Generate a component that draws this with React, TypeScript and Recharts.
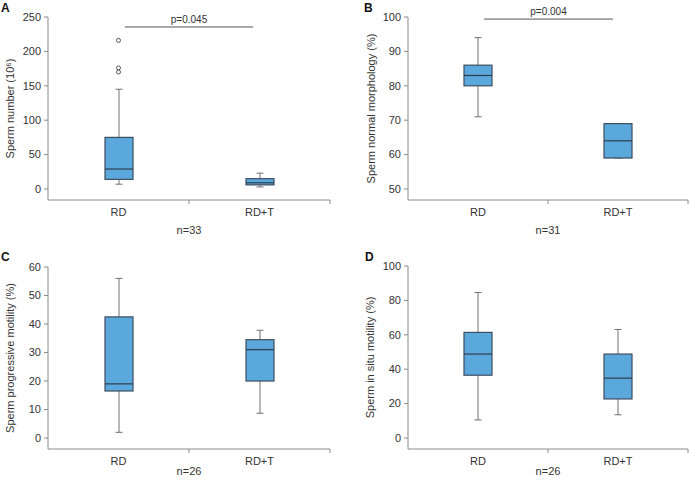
import React from "react";
import {
  ComposedChart,
  Bar,
  XAxis,
  YAxis,
  ReferenceLine,
  ReferenceDot,
} from "recharts";

const groups = ["RD", "RD+T"];
const groupX = [0.5, 1.5];

// A: sperm number
const lowA = [7, 3];
const q1A = [14, 6];
const medA = [29, 9];
const q3A = [75, 15];
const highA = [145, 23];
const outliersA = [216, 176, 170];

// B: normal morphology
const lowB = [71, 59];
const q1B = [80, 59];
const medB = [83, 64];
const q3B = [86, 69];
const highB = [94, 69];

// C: progressive motility
const lowC = [2, 8.7];
const q1C = [16.5, 20];
const medC = [19, 31];
const q3C = [42.5, 34.5];
const highC = [56, 37.8];

// D: in situ motility
const lowD = [10.5, 13.5];
const q1D = [36.5, 22.7];
const medD = [48.8, 34.8];
const q3D = [61.4, 48.8];
const highD = [84.6, 63.1];

const ticksA = [0, 50, 100, 150, 200, 250];
const ticksB = [50, 60, 70, 80, 90, 100];
const ticksC = [0, 10, 20, 30, 40, 50, 60];
const ticksD = [0, 20, 40, 60, 80, 100];

const FONT = "'Liberation Sans', Arial, sans-serif";
const AXIS = "#8a8a8a";
const TEXT = "#333";

const makeRows = (lo: number[], q1: number[], med: number[], q3: number[], hi: number[]) =>
  groups.map((g, i) => ({
    name: g,
    x: groupX[i],
    low: lo[i],
    q1: q1[i],
    med: med[i],
    q3: q3[i],
    high: hi[i],
    range: [lo[i], hi[i]],
  }));

const BoxShape = (props: any) => {
  const { x, y, width, height, payload } = props;
  const top = Math.min(y, y + height);
  const h = Math.abs(height);
  const lo = payload.low;
  const hi = payload.high;
  const py = (v: number) => (hi === lo ? top : top + ((hi - v) / (hi - lo)) * h);
  const cx = x + width / 2;
  const wStroke = "#707070";
  return (
    <g>
      <line x1={cx} x2={cx} y1={py(hi)} y2={py(payload.q3)} stroke={wStroke} />
      <line x1={cx} x2={cx} y1={py(payload.q1)} y2={py(lo)} stroke={wStroke} />
      <line x1={cx - 3.5} x2={cx + 3.5} y1={py(hi)} y2={py(hi)} stroke={wStroke} />
      <line x1={cx - 3.5} x2={cx + 3.5} y1={py(lo)} y2={py(lo)} stroke={wStroke} />
      <rect
        x={x}
        y={py(payload.q3)}
        width={width}
        height={py(payload.q1) - py(payload.q3)}
        fill="#5ba8dd"
        stroke="#3d4e5f"
        strokeWidth={1.2}
      />
      <line x1={x} x2={x + width} y1={py(payload.med)} y2={py(payload.med)} stroke="#2f3d4b" strokeWidth={1.2} />
    </g>
  );
};

const XTick = (props: any) => {
  const { x, y, payload } = props;
  const v = payload.value;
  if (Number.isInteger(v)) {
    if (v === 0) return <g />;
    return <line x1={x} x2={x} y1={y - 8} y2={y - 4} stroke={AXIS} />;
  }
  return (
    <text x={x} y={y} dy="0.71em" textAnchor="middle" fontSize={11} fill={TEXT} fontFamily={FONT}>
      {groups[Math.floor(v)]}
    </text>
  );
};

interface PanelProps {
  rows: any[];
  width: number;
  height: number;
  margin: { top: number; right: number; bottom: number; left: number };
  yWidth: number;
  xHeight: number;
  domain: [number, number];
  ticks: number[];
  yLabel: string;
  labelOffset: number;
  n: string;
  children?: React.ReactNode;
}

const Panel = (p: PanelProps) => (
  <ComposedChart width={p.width} height={p.height} data={p.rows} margin={p.margin}>
    <XAxis
      type="number"
      dataKey="x"
      domain={[0, 2]}
      ticks={[0, 0.5, 1, 1.5, 2]}
      interval={0}
      tick={<XTick />}
      tickLine={false}
      tickSize={5}
      tickMargin={3}
      stroke={AXIS}
      height={p.xHeight}
      label={{ value: p.n, position: "insideBottom", offset: 0, fontSize: 11, fill: TEXT, fontFamily: FONT }}
    />
    <YAxis
      type="number"
      domain={p.domain}
      ticks={p.ticks}
      interval={0}
      allowDataOverflow
      width={p.yWidth}
      stroke={AXIS}
      tickSize={4}
      tickMargin={3}
      tick={{ fontSize: 11, fill: TEXT, fontFamily: FONT }}
      label={{
        value: p.yLabel,
        angle: -90,
        position: "insideLeft",
        offset: p.labelOffset,
        fontSize: 11,
        fill: TEXT,
        fontFamily: FONT,
        style: { textAnchor: "middle" },
      }}
    />
    <Bar dataKey="range" barSize={28} shape={<BoxShape />} isAnimationActive={false} />
    {p.children}
  </ComposedChart>
);

const letterStyle = (left: number, top: number): React.CSSProperties => ({
  position: "absolute",
  left,
  top,
  fontFamily: FONT,
  fontWeight: "bold",
  fontSize: 12,
  color: "#111",
  lineHeight: "12px",
});

const pLabel = (v: string) => ({ value: v, position: "top" as const, offset: 4, fontSize: 10, fill: TEXT, fontFamily: FONT });

export default function App() {
  const rowsA = makeRows(lowA, q1A, medA, q3A, highA);
  const rowsB = makeRows(lowB, q1B, medB, q3B, highB);
  const rowsC = makeRows(lowC, q1C, medC, q3C, highC);
  const rowsD = makeRows(lowD, q1D, medD, q3D, highD);

  return (
    <div style={{ position: "absolute", left: 0, top: 0, width: 690, height: 483, background: "#fff" }}>
      <div style={{ position: "absolute", left: 0, top: 0 }}>
        <Panel
          rows={rowsA}
          width={345}
          height={240}
          margin={{ top: 17, right: 15, bottom: 6, left: 0 }}
          yWidth={48}
          xHeight={34}
          domain={[-16, 250]}
          ticks={ticksA}
          yLabel="Sperm number (10⁶)"
          labelOffset={10}
          n="n=33"
        >
          {outliersA.map((v, i) => (
            <ReferenceDot key={i} x={groupX[0]} y={v} r={2} fill="#fff" stroke="#555" ifOverflow="visible" />
          ))}
          <ReferenceLine
            segment={[
              { x: 0.545, y: 235.5 },
              { x: 1.455, y: 235.5 },
            ]}
            stroke="#555"
            ifOverflow="visible"
            label={pLabel("p=0.045")}
          />
        </Panel>
      </div>
      <div style={{ position: "absolute", left: 345, top: 0 }}>
        <Panel
          rows={rowsB}
          width={345}
          height={240}
          margin={{ top: 17, right: 2, bottom: 6, left: 0 }}
          yWidth={63}
          xHeight={34}
          domain={[46.8, 100]}
          ticks={ticksB}
          yLabel="Sperm normal morphology (%)"
          labelOffset={26}
          n="n=31"
        >
          <ReferenceLine
            segment={[
              { x: 0.543, y: 99.4 },
              { x: 1.464, y: 99.4 },
            ]}
            stroke="#555"
            ifOverflow="visible"
            label={pLabel("p=0.004")}
          />
        </Panel>
      </div>
      <div style={{ position: "absolute", left: 0, top: 240 }}>
        <Panel
          rows={rowsC}
          width={345}
          height={243}
          margin={{ top: 27, right: 15, bottom: 8, left: 0 }}
          yWidth={48}
          xHeight={26}
          domain={[-3.85, 60]}
          ticks={ticksC}
          yLabel="Sperm progressive motility (%)"
          labelOffset={10}
          n="n=26"
        />
      </div>
      <div style={{ position: "absolute", left: 345, top: 240 }}>
        <Panel
          rows={rowsD}
          width={345}
          height={243}
          margin={{ top: 26, right: 2, bottom: 8, left: 0 }}
          yWidth={63}
          xHeight={26}
          domain={[-6.4, 100]}
          ticks={ticksD}
          yLabel="Sperm in situ motility (%)"
          labelOffset={25}
          n="n=26"
        />
      </div>
      <div style={letterStyle(1, 2)}>A</div>
      <div style={letterStyle(364, 2)}>B</div>
      <div style={letterStyle(1, 251)}>C</div>
      <div style={letterStyle(365, 251)}>D</div>
    </div>
  );
}
